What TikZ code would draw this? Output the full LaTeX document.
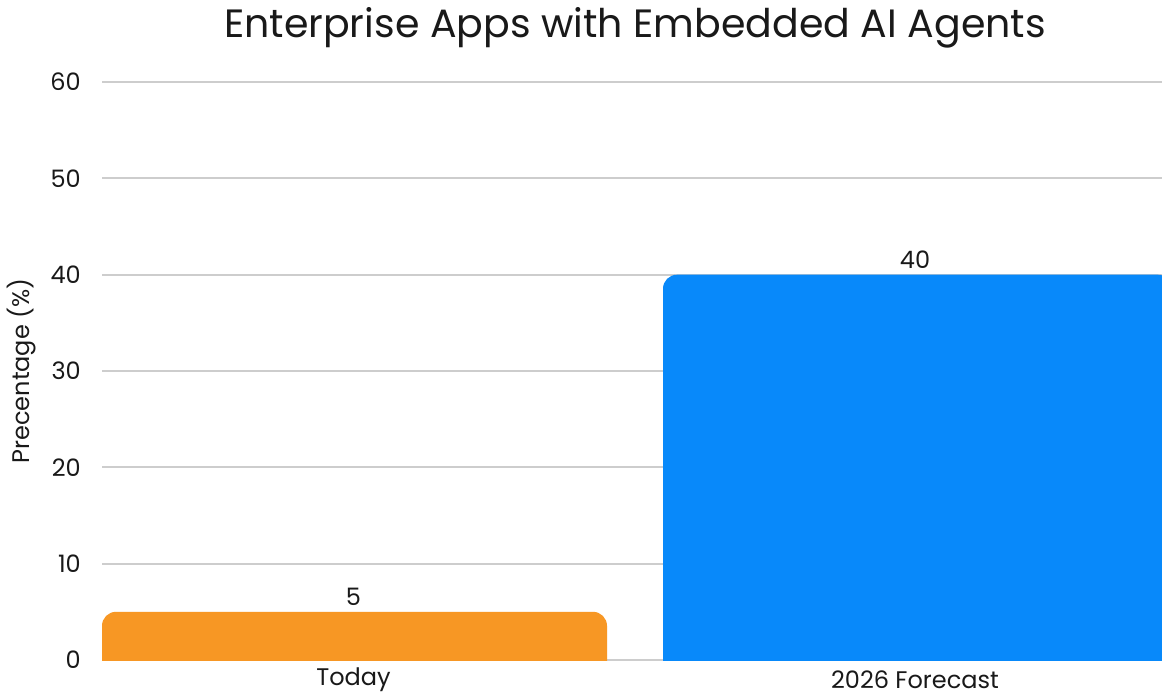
\documentclass[tikz,border=0pt]{standalone}
\usepackage{fontspec}
\setmainfont{Poppins}
\definecolor{barorange}{RGB}{247,151,36}
\definecolor{barblue}{RGB}{8,137,250}
\definecolor{gridgray}{RGB}{205,205,205}
\definecolor{txt}{RGB}{25,25,25}
\begin{document}
\begin{tikzpicture}[x=1pt,y=-1pt,
  grid/.style={gridgray,line width=1.8pt},
  ticklbl/.style={anchor=east,inner sep=0pt,font=\fontsize{24}{26}\selectfont,text=txt},
  vallbl/.style={inner sep=0pt,font=\fontsize{24}{26}\selectfont,text=txt},
  catlbl/.style={inner sep=0pt,font=\fontsize{24}{26}\selectfont,text=txt},
  titlelbl/.style={inner sep=0pt,font=\fontsize{39.5}{42}\selectfont,text=txt}]
\useasboundingbox (0,0) rectangle (1162,696);
\fill[white] (0,0) rectangle (1162,696);
% gridlines and tick labels
\foreach \v/\yy in {0/660,10/563.7,20/467.3,30/371,40/274.7,50/178.3,60/82}{
  \draw[grid] (102,\yy) -- (1162,\yy);
  \node[ticklbl] (t\v) at (81,\yy) {\v};
}
% bars
\begin{scope}
\clip (0,0) rectangle (1162,660);
\fill[barorange,rounded corners=14pt] (102,611.8) rectangle (607,700);
\fill[barblue,rounded corners=14pt] (663,274.7) rectangle (1172,700);
\end{scope}
% labels
\node[vallbl] (v1) at (353.5,597) {5};
\node[vallbl] (v2) at (915,260) {40};
\node[catlbl] (c1) at (353.5,680) {Today};
\node[catlbl] (c2) at (915,680) {2026 Forecast};
\node[titlelbl] (title) at (635,28) {Enterprise Apps with Embedded AI Agents};
\node[vallbl,rotate=90] (ylab) at (22,371) {Precentage (\%)};
\end{tikzpicture}
\end{document}
